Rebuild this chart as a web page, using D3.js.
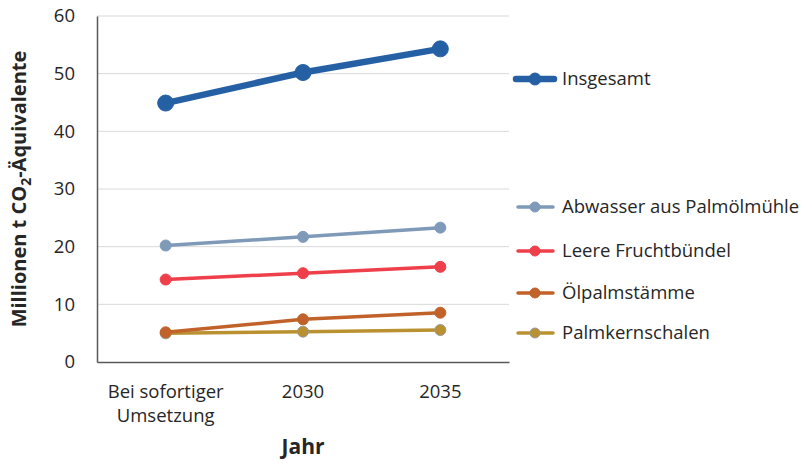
<!DOCTYPE html>
<html>
<head>
<meta charset="utf-8">
<script src="https://cdn.jsdelivr.net/npm/d3@7"></script>
<style>
  body { margin: 0; background: #fff; }
  text { font-family: "Open Sans", "Noto Sans", sans-serif; fill: #262626; }
</style>
</head>
<body>
<div id="chart"></div>
<script>
var years = ["Bei sofortiger Umsetzung", "2030", "2035"];
var yTicks = [0, 10, 20, 30, 40, 50, 60];

var insgesamt = [44.9, 50.2, 54.3];
var abwasser = [20.2, 21.7, 23.3];
var leere = [14.3, 15.4, 16.5];
var oelpalm = [5.15, 7.4, 8.55];
var palmkern = [4.97, 5.26, 5.55];

var seriesNames = ["Insgesamt", "Abwasser aus Palmölmühle", "Leere Fruchtbündel", "Ölpalmstämme", "Palmkernschalen"];
var seriesValues = [insgesamt, abwasser, leere, oelpalm, palmkern];
var seriesColors = ["#2660a4", "#7f9ab8", "#ef3f4a", "#c0622a", "#b99130"];
var markerStroke = ["#2660a4", "#7f9ab8", "#ef3f4a", "#c0622a", "#999999"];
var legendY = [79, 207, 251, 293, 333];

var svgWidth = 811;
var svgHeight = 463;
var margin = { top: 16, right: 302, bottom: 101, left: 97 };
var width = svgWidth - margin.left - margin.right;
var height = svgHeight - margin.top - margin.bottom;

var svg = d3.select("#chart")
    .append("svg")
    .attr("width", svgWidth)
    .attr("height", svgHeight);

var chartGroup = svg.append("g")
    .attr("transform", `translate(${margin.left}, ${margin.top})`);

var xScale = d3.scalePoint()
    .domain(years)
    .range([0, width])
    .padding(0.5);

var yScale = d3.scaleLinear()
    .domain([0, 60])
    .range([height, 0]);

// gridlines
chartGroup.append("g")
    .selectAll("line")
    .data(yTicks.filter(d => d > 0))
    .enter()
    .append("line")
    .attr("x1", 0)
    .attr("x2", width)
    .attr("y1", d => yScale(d))
    .attr("y2", d => yScale(d))
    .attr("stroke", "#d9d9d9")
    .attr("stroke-width", 1);

// y axis
var leftAxis = d3.axisLeft(yScale).tickValues(yTicks).tickSize(0).tickPadding(22);
var yAxis = chartGroup.append("g").call(leftAxis);
yAxis.select(".domain").attr("stroke", "#595959").attr("stroke-width", 1.5);
yAxis.selectAll("text")
    .style("font-size", "18.5px")
    .style("font-family", "'Open Sans', sans-serif")
    .attr("fill", "#262626");

// x axis
var bottomAxis = d3.axisBottom(xScale).tickSize(0).tickFormat("");
var xAxis = chartGroup.append("g")
    .attr("transform", `translate(0, ${height})`)
    .call(bottomAxis);
xAxis.select(".domain").attr("stroke", "#595959").attr("stroke-width", 1.5);

var catLabels = chartGroup.append("g")
    .selectAll("text")
    .data(years)
    .enter()
    .append("text")
    .attr("x", d => xScale(d))
    .attr("y", height + 36)
    .attr("text-anchor", "middle")
    .style("font-size", "18.5px");

catLabels.each(function (d) {
    var words = d === "Bei sofortiger Umsetzung" ? ["Bei sofortiger", "Umsetzung"] : [d];
    var t = d3.select(this);
    words.forEach((w, i) => {
        t.append("tspan")
            .attr("x", xScale(d))
            .attr("dy", i === 0 ? 0 : 24)
            .text(w);
    });
});

// axis titles
chartGroup.append("text")
    .attr("x", xScale("2030"))
    .attr("y", height + 92)
    .attr("text-anchor", "middle")
    .style("font-size", "21px")
    .style("font-weight", "bold")
    .text("Jahr");

var yTitle = svg.append("text")
    .attr("transform", `translate(26, ${margin.top + height / 2}) rotate(-90)`)
    .attr("text-anchor", "middle")
    .style("font-size", "20px")
    .style("font-weight", "bold");
yTitle.append("tspan").text("Millionen t CO");
yTitle.append("tspan").attr("dy", 5).style("font-size", "14px").text("2");
yTitle.append("tspan").attr("dy", -5).text("-Äquivalente");

// lines and markers
var line = d3.line()
    .x((d, i) => xScale(years[i]))
    .y(d => yScale(d));

// draw bottom series first so the total sits on top
for (var s = seriesValues.length - 1; s >= 0; s--) {
    var big = s === 0;
    chartGroup.append("path")
        .datum(seriesValues[s])
        .attr("fill", "none")
        .attr("stroke", seriesColors[s])
        .attr("stroke-width", big ? 6.5 : 3.5)
        .attr("d", line);

    chartGroup.append("g")
        .selectAll("circle")
        .data(seriesValues[s])
        .enter()
        .append("circle")
        .attr("cx", (d, i) => xScale(years[i]))
        .attr("cy", d => yScale(d))
        .attr("r", big ? 8 : 5.5)
        .attr("fill", seriesColors[s])
        .attr("stroke", markerStroke[s])
        .attr("stroke-width", 1);
}

// legend
var legend = svg.append("g");
seriesNames.forEach((name, i) => {
    var big = i === 0;
    var g = legend.append("g").attr("transform", `translate(0, ${legendY[i]})`);
    g.append("line")
        .attr("x1", big ? 516 : 518)
        .attr("x2", big ? 554 : 553)
        .attr("y1", 0)
        .attr("y2", 0)
        .attr("stroke", seriesColors[i])
        .attr("stroke-width", big ? 6.5 : 3.5)
        .attr("stroke-linecap", "round");
    g.append("circle")
        .attr("cx", 535)
        .attr("cy", 0)
        .attr("r", big ? 6 : 5)
        .attr("fill", seriesColors[i])
        .attr("stroke", markerStroke[i])
        .attr("stroke-width", 1);
    g.append("text")
        .attr("x", 562)
        .attr("y", 6)
        .style("font-size", "18.5px")
        .text(name);
});
</script>
</body>
</html>
